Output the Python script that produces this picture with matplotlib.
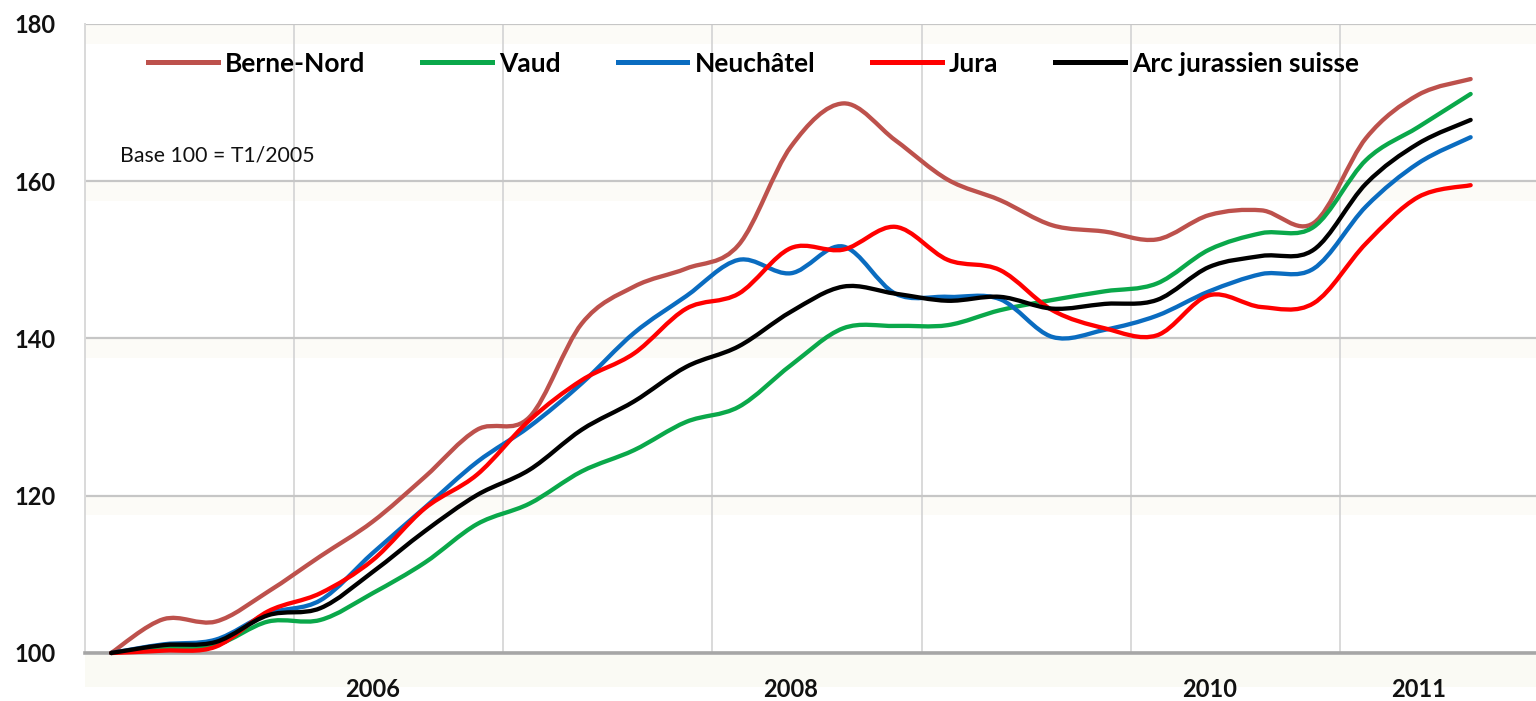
import numpy as np
import matplotlib
matplotlib.use("Agg")
import matplotlib.pyplot as plt
from matplotlib.path import Path
from matplotlib.patches import PathPatch, Rectangle
from matplotlib.lines import Line2D

# quarterly index, base 100 = T1/2005
quarters = [f"T{q}/{y}" for y in range(2005, 2012) for q in range(1, 5)][:27]

berne = [100, 104.3, 104.0, 107.8, 112.3, 116.7, 122.4, 128.4, 130.0, 141.9,
         146.6, 148.9, 151.9, 164.4, 169.9, 165.2, 160.2, 157.6, 154.4, 153.6,
         152.6, 155.7, 156.3, 154.7, 165.5, 171.0, 173.0]
vaud = [100, 100.6, 101.0, 104.0, 104.2, 107.6, 111.5, 116.4, 119.0, 123.1,
        125.8, 129.4, 131.3, 136.6, 141.3, 141.6, 141.7, 143.6, 144.9, 146.0,
        147.0, 151.3, 153.4, 154.2, 162.7, 166.9, 171.1]
neuchatel = [100, 101.1, 101.7, 105.0, 106.7, 112.7, 118.5, 124.3, 128.8, 134.3,
             140.7, 145.4, 150.0, 148.3, 151.7, 145.7, 145.3, 145.0, 140.2, 141.1,
             142.9, 146.0, 148.2, 148.9, 156.8, 162.3, 165.6]
jura = [100, 100.3, 100.8, 105.3, 107.6, 111.8, 118.4, 122.7, 129.6, 134.7,
        138.1, 143.8, 145.7, 151.5, 151.3, 154.2, 150.0, 148.7, 143.6, 141.3,
        140.4, 145.5, 144.0, 144.5, 152.1, 158.0, 159.5]
arc = [100, 101.0, 101.4, 104.8, 105.7, 110.3, 115.5, 120.1, 123.3, 128.4,
       132.0, 136.4, 139.0, 143.4, 146.6, 145.7, 144.8, 145.3, 143.8, 144.4,
       144.9, 149.1, 150.5, 151.3, 159.7, 164.8, 167.8]

names = ["Berne-Nord", "Vaud", "Neuchâtel", "Jura", "Arc jurassien suisse"]
colors = ["#bd514c", "#0aa84a", "#0a6cc0", "#ff0000", "#000000"]
year_ticks = {"T2/2006": "2006", "T2/2008": "2008", "T2/2010": "2010", "T2/2011": "2011"}

plt.rcParams["font.family"] = ["Lato", "DejaVu Sans"]


def smooth_path(xs, ys):
    # Excel-style smoothed line: cubic bezier through the points
    pts = np.column_stack([xs, ys]).astype(float)
    verts = [pts[0]]
    codes = [Path.MOVETO]
    n = len(pts)
    for i in range(n - 1):
        p0 = pts[max(i - 1, 0)]
        p1 = pts[i]
        p2 = pts[i + 1]
        p3 = pts[min(i + 2, n - 1)]
        verts += [p1 + (p2 - p0) / 6, p2 - (p3 - p1) / 6, p2]
        codes += [Path.CURVE4] * 3
    return Path(verts, codes)


fig = plt.figure(figsize=(15.36, 7.01), dpi=100)
ax = fig.add_axes([85 / 1536, 48 / 701, 1451 / 1536, 629 / 701])

x = np.arange(len(quarters))
for vals, name, col in zip([berne, vaud, neuchatel, jura, arc], names, colors):
    ax.add_patch(PathPatch(smooth_path(x, vals), fill=False, edgecolor=col,
                           lw=3.1, capstyle="round", joinstyle="round",
                           zorder=3, clip_on=False))

ax.set_xlim(-0.5, 27.25)
ax.set_ylim(100, 180)

ax.set_yticks([100, 120, 140, 160, 180])
ax.set_xticks([quarters.index(k) for k in year_ticks])
ax.set_xticklabels(list(year_ticks.values()))
ax.set_xticks(np.arange(3.5, 27, 4), minor=True)
ax.tick_params(axis="both", which="both", length=0)
ax.tick_params(axis="y", pad=21, labelsize=17, labelcolor="#111111")
ax.tick_params(axis="x", pad=18, labelsize=17, labelcolor="#111111")
for lab in ax.get_xticklabels() + ax.get_yticklabels():
    lab.set_fontweight("bold")

ax.set_axisbelow(True)
ax.yaxis.grid(True, color="#c6c6c6", lw=1.6)
ax.xaxis.grid(True, which="minor", color="#d9d9d9", lw=1.4)

for g in [120, 140, 160, 180]:
    ax.axhspan(g - 2.5, g, color="#fcfbf7", lw=0, zorder=0)

for side in ["top", "right"]:
    ax.spines[side].set_visible(False)
ax.spines["left"].set_color("#d9d9d9")
ax.spines["left"].set_linewidth(1.4)
ax.spines["bottom"].set_color("#a6a6a6")
ax.spines["bottom"].set_linewidth(2.6)

fig.patches.append(Rectangle((85 / 1536, 14 / 701), 1451 / 1536, 32 / 701,
                             transform=fig.transFigure, color="#fafaf4",
                             lw=0, zorder=-1))

handles = [Line2D([], [], color=c, lw=3.6) for c in colors]
ax.legend(handles, names, loc="center left", bbox_to_anchor=(0.0434, 0.937),
          ncol=5, frameon=False, borderaxespad=0, borderpad=0,
          handlelength=2.65, handletextpad=0.27, columnspacing=2.15,
          prop={"size": 19, "weight": "bold"})

ax.text(0.0241, 0.782, "Base 100 = T1/2005", transform=ax.transAxes,
        fontsize=15.3, va="baseline", ha="left", color="#111111")

fig.savefig("out.png", dpi=100)
